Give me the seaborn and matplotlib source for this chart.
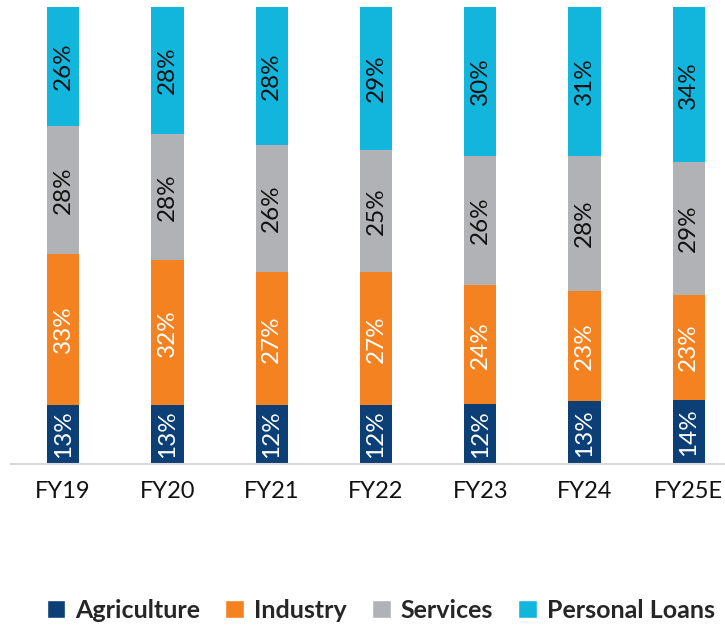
import numpy as np
import pandas as pd
import matplotlib
matplotlib.use('Agg')
import matplotlib.pyplot as plt
import seaborn as sns
from matplotlib.patches import Patch

sns.set_style("white")
plt.rcParams['font.family'] = ['Lato', 'DejaVu Sans']

# data (labels as printed; bars drawn as 100% stacked)
years = ['FY19', 'FY20', 'FY21', 'FY22', 'FY23', 'FY24', 'FY25E']
agriculture = [13, 13, 12, 12, 12, 13, 14]
industry = [33, 32, 27, 27, 24, 23, 23]
services = [28, 28, 26, 25, 26, 28, 29]
personal_loans = [26, 28, 28, 29, 30, 31, 34]

series = ['Agriculture', 'Industry', 'Services', 'Personal Loans']
colors = ['#0B3F76', '#F58220', '#B1B2B5', '#12B6DD']
text_colors = ['white', 'white', '#111111', '#111111']

df = pd.DataFrame({'Year': years, 'Agriculture': agriculture, 'Industry': industry,
                   'Services': services, 'Personal Loans': personal_loans})
total = df[series].sum(axis=1)
share = df[series].div(total, axis=0)
cum = share.cumsum(axis=1)

fig = plt.figure(figsize=(7.25, 6.31), dpi=100)
ax = fig.add_axes([11 / 725, 167 / 631, 730 / 725, 457 / 631])

# overlay cumulative bars, top layer first
for s, c in zip(series[::-1], colors[::-1]):
    sns.barplot(x=df['Year'], y=cum[s], color=c, width=0.31, ax=ax,
                saturation=1, edgecolor='none', linewidth=0)

# segment labels
for i in range(len(years)):
    base = 0
    for s, tc in zip(series, text_colors):
        h = share.loc[i, s]
        ax.text(i, base + h / 2, f"{df.loc[i, s]}%", rotation=90, ha='center', va='center',
                color=tc, fontsize=17.5)
        base += h

ax.set_xlim(-0.5, 6.5)
ax.set_ylim(0, 1)
ax.set_xlabel('')
ax.set_ylabel('')
ax.set_yticks([])
ax.tick_params(axis='x', length=0, labelsize=17, pad=12, colors='#111111')
for side in ['top', 'right', 'left']:
    ax.spines[side].set_visible(False)
ax.spines['bottom'].set_color('#D9D9D9')
ax.spines['bottom'].set_linewidth(1.5)

handles = [Patch(facecolor=c, label=s) for s, c in zip(series, colors)]
fig.legend(handles=handles, loc='center', bbox_to_anchor=(0.525, 0.033), ncol=4, frameon=False,
           prop={'weight': 'bold', 'size': 18}, handlelength=0.75, handleheight=0.75,
           handletextpad=0.4, columnspacing=1.0)

fig.savefig('out.png', dpi=100)
